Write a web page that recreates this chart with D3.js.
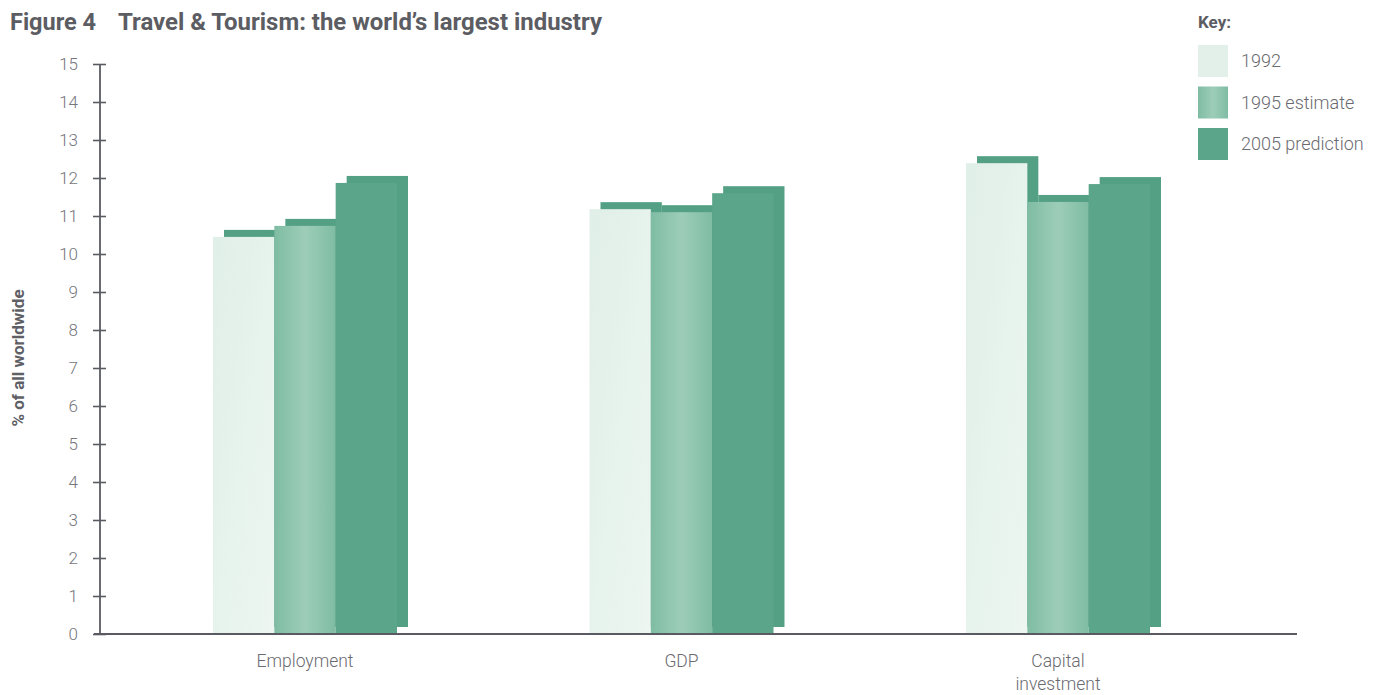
<!DOCTYPE html>
<html><head><meta charset="utf-8">
<script src="https://cdn.jsdelivr.net/npm/d3@7"></script>
<style>
body{margin:0;background:#fff;}
svg{display:block;}
text{font-family:"Roboto","Liberation Sans",sans-serif;}
</style></head>
<body>
<svg id="chart" width="1383" height="695"></svg>
<script>
const categories = ["Employment", "GDP", "Capital investment"];
const categoryLines = [["Employment"], ["GDP"], ["Capital", "investment"]];
const series = ["1992", "1995 estimate", "2005 prediction"];
const values1992 = [10.45, 11.18, 12.39];
const values1995 = [10.74, 11.1, 11.37];
const values2005 = [11.87, 11.6, 11.84];
const yTicks = [0,1,2,3,4,5,6,7,8,9,10,11,12,13,14,15];
const seriesValues = [values1992, values1995, values2005];

const svg = d3.select("#chart");
const defs = svg.append("defs");
const g95 = defs.append("linearGradient").attr("id","g95").attr("x1","0").attr("x2","1").attr("y1","0").attr("y2","0");
g95.append("stop").attr("offset","0%").attr("stop-color","#7fbca3");
g95.append("stop").attr("offset","50%").attr("stop-color","#9dcdb9");
g95.append("stop").attr("offset","100%").attr("stop-color","#7fbca3");
const g92 = defs.append("linearGradient").attr("id","g92").attr("x1","0").attr("x2","1").attr("y1","0").attr("y2","1");
g92.append("stop").attr("offset","0%").attr("stop-color","#e0efe8");
g92.append("stop").attr("offset","100%").attr("stop-color","#edf6f1");

const colors = ["url(#g92)", "url(#g95)", "#5ba58b"];
const shadowColor = "#54a085";
const axisColor = "#5a5a62";

const y = d3.scaleLinear().domain([0, 15]).range([634, 64]);
const x0 = d3.scaleBand().domain(categories).range([116.75, 1246.25]).paddingInner(0.5113).paddingOuter(0.25565);
const x1 = d3.scaleBand().domain(series).range([0, x0.bandwidth()]);
const dx = 11, dy = 7;

// bars
categories.forEach((c, ci) => {
  const grp = svg.append("g").attr("transform", `translate(${x0(c)},0)`);
  series.forEach((s, si) => {
    const v = seriesValues[si][ci];
    grp.append("rect")
      .attr("x", x1(s) + dx).attr("y", y(v) - dy)
      .attr("width", x1.bandwidth()).attr("height", y(0) - y(v))
      .attr("fill", shadowColor);
    grp.append("rect")
      .attr("x", x1(s)).attr("y", y(v))
      .attr("width", x1.bandwidth()).attr("height", y(0) - y(v))
      .attr("fill", colors[si]);
  });
});

// y axis
const yAxis = d3.axisLeft(y).tickValues(yTicks).tickSize(0).tickPadding(0);
const ya = svg.append("g").attr("transform", "translate(100,0)").call(yAxis);
ya.select(".domain").remove();
ya.selectAll(".tick text").attr("x", -22).attr("dy", "0.35em")
  .attr("fill", "#76767c").style("font-size", "17px").style("font-weight", "300")
  .style("font-family", "Roboto, sans-serif");
ya.selectAll(".tick").append("line").attr("x1", -7).attr("x2", 6)
  .attr("stroke", axisColor).attr("stroke-width", 1.6);
svg.append("line").attr("x1", 100).attr("x2", 100).attr("y1", y(15)).attr("y2", y(0))
  .attr("stroke", axisColor).attr("stroke-width", 1.8);
svg.append("line").attr("x1", 94).attr("x2", 1297).attr("y1", y(0)).attr("y2", y(0))
  .attr("stroke", axisColor).attr("stroke-width", 2);

// y title
svg.append("text").attr("transform", "translate(24,358) rotate(-90)")
  .attr("text-anchor", "middle").attr("fill", "#5f5f66")
  .style("font-size", "17px").style("font-weight", "bold")
  .text("% of all worldwide");

// x labels
categories.forEach((c, ci) => {
  const cx = x0(c) + x0.bandwidth() / 2;
  categoryLines[ci].forEach((ln, li) => {
    svg.append("text").attr("x", cx).attr("y", 667 + li * 23)
      .attr("text-anchor", "middle").attr("fill", "#6a6a70")
      .style("font-size", "17.5px").style("font-weight", "300")
      .text(ln);
  });
});

// title
svg.append("text").attr("x", 10).attr("y", 30).attr("fill", "#5c5c63")
  .style("font-size", "23.5px").style("font-weight", "bold")
  .text("Figure 4");
svg.append("text").attr("x", 118).attr("y", 30).attr("fill", "#5c5c63")
  .style("font-size", "23.5px").style("font-weight", "bold")
  .attr("textLength", 484).attr("lengthAdjust", "spacingAndGlyphs")
  .text("Travel & Tourism: the world\u2019s largest industry");

// legend
svg.append("text").attr("x", 1198).attr("y", 28).attr("fill", "#5c5c63")
  .style("font-size", "17px").style("font-weight", "bold")
  .text("Key:");
const legendColors = ["#e3f0e9", "url(#g95)", "#5ba58b"];
series.forEach((s, si) => {
  const ly = 45 + si * 41.5;
  svg.append("rect").attr("x", 1198).attr("y", ly).attr("width", 30).attr("height", 32)
    .attr("fill", legendColors[si]);
  svg.append("text").attr("x", 1241).attr("y", ly + 22).attr("fill", "#6a6a70")
    .style("font-size", "18px").style("font-weight", "300")
    .text(s);
});
</script>
</body></html>
